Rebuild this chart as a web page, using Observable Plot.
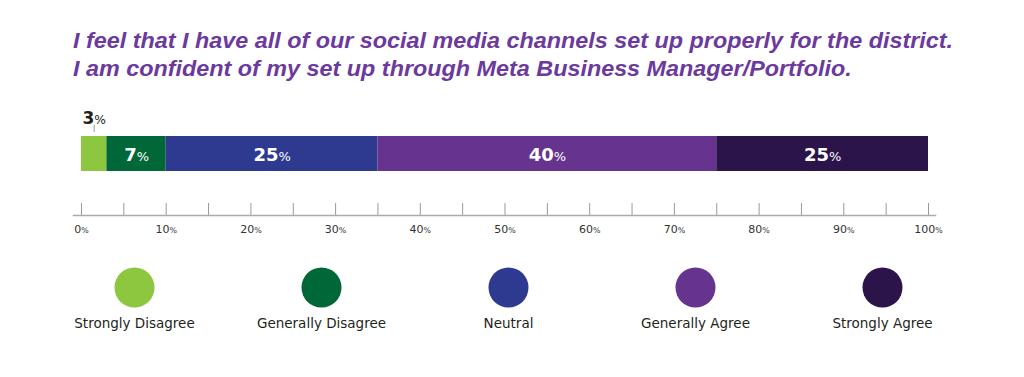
<!DOCTYPE html>
<html><head><meta charset="utf-8">
<script src="https://cdn.jsdelivr.net/npm/d3@7"></script>
<script src="https://cdn.jsdelivr.net/npm/@observablehq/plot@0.6"></script>
<style>
body{margin:0;background:#fff;width:1024px;height:377px;position:relative;overflow:hidden;font-family:"DejaVu Sans",sans-serif;}
#title{position:absolute;left:73px;top:27px;font-family:"Liberation Sans",Arial,sans-serif;font-size:22px;line-height:28px;font-weight:bold;font-style:italic;color:#6b3a9c;white-space:nowrap;transform-origin:0 0}
#title div{display:block}
#bar{position:absolute;left:0;top:100px}
#legend{position:absolute;left:0;top:250px}
</style></head><body>
<div id="title"></div>
<div id="bar"></div><div id="legend"></div>
<script>
const titleLines = [
  "I feel that I have all of our social media channels set up properly for the district.",
  "I am confident of my set up through Meta Business Manager/Portfolio."
];
const categories = ["Strongly Disagree","Generally Disagree","Neutral","Generally Agree","Strongly Agree"];
const values = [3,7,25,40,25];
const colors = ["#8dc63f","#006838","#2e3a90","#66338f","#2b1449"];
const tickValues = [0,10,20,30,40,50,60,70,80,90,100];
const minorTicks = [0,5,10,15,20,25,30,35,40,45,50,55,60,65,70,75,80,85,90,95,100];

const titleEl = document.getElementById("title");
titleEl.innerHTML = titleLines.map(t=>`<div>${t}</div>`).join("");
// fit the first title line to the original's width (~880px)
const w = titleEl.firstChild.getBoundingClientRect().width;
titleEl.style.transform = `scaleX(${880 / w})`;

const row = "Q";
const data = categories.map((c,i)=>({category:c, value:values[i], mid: d3.sum(values.slice(0,i)) + values[i]/2}));
const inside = data.filter(d=>d.value>=5);
const outside = data.filter(d=>d.value<5);

const plot1 = Plot.plot({
  width:1024, height:150, marginLeft:81, marginRight:96, marginTop:36, marginBottom:35,
  x:{domain:[0,100]},
  y:{axis:null, domain:[row], padding:0},
  color:{domain:categories, range:colors},
  style:{fontFamily:"'DejaVu Sans', sans-serif", color:"#333"},
  marks:[
    Plot.barX(data, Plot.stackX({x:"value", y:()=>row, fill:"category", insetBottom:44})),
    Plot.text(inside, {x:"mid", y:()=>row, text:d=>d.value+"%", fill:"white", fontWeight:"bold", fontSize:18, dy:-21}),
    Plot.text(outside, {x:"mid", y:()=>row, text:d=>d.value+"%", fill:"#231f20", fontWeight:"bold", fontSize:17, dy:-57}),
    Plot.tickX(outside, {x:"mid", y:()=>row, stroke:"#999", insetTop:-11, insetBottom:83}),
    Plot.tickX(minorTicks, {x:d=>d, stroke:"#999", insetTop:67}),
    Plot.frame({anchor:"bottom", stroke:"#aaa", strokeWidth:1.5, insetLeft:-8, insetRight:-7}),
    Plot.axisX({ticks:tickValues, tickFormat:d=>d+"%", tickSize:0, tickPadding:10, fontSize:11, label:null, fill:"#333"})
  ]
});
document.getElementById("bar").append(plot1);

const plot2 = Plot.plot({
  width:1024, height:127, marginLeft:133, marginRight:141, marginTop:0, marginBottom:53,
  x:{type:"point", domain:categories, axis:null, padding:0},
  color:{domain:categories, range:colors},
  style:{fontFamily:"'DejaVu Sans', sans-serif"},
  marks:[
    Plot.dot(categories, {x:d=>d, fill:d=>d, r:20}),
    Plot.text(categories, {x:d=>d, text:d=>d, dy:36, fontSize:13.5, fill:"#231f20"})
  ]
});
document.getElementById("legend").append(plot2);

// render the "%" sign smaller, as in the original
document.querySelectorAll("#bar text").forEach(el=>{
  if (el.childNodes.length===1 && el.firstChild.nodeType===3 && el.textContent.endsWith("%")) {
    const num = el.textContent.slice(0,-1);
    el.textContent = num;
    const ts = document.createElementNS("http://www.w3.org/2000/svg","tspan");
    ts.setAttribute("font-size","0.72em");
    ts.setAttribute("font-weight","normal");
    ts.textContent = "%";
    el.appendChild(ts);
  }
});
</script>
</body></html>
